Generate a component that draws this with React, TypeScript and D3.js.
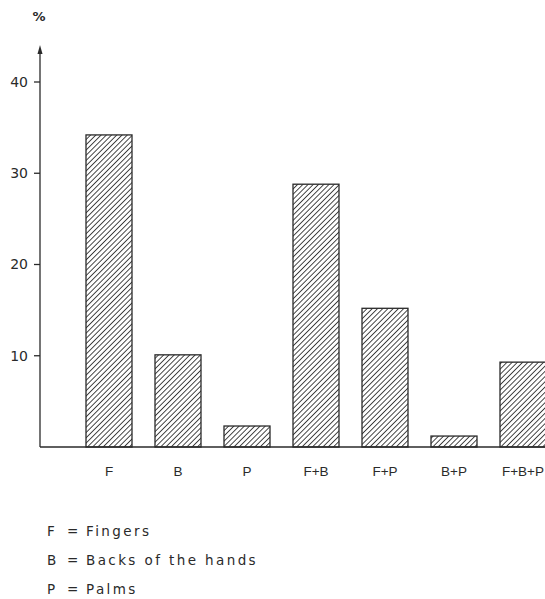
import React from "react";
import * as d3 from "d3";

const categories = ["F", "B", "P", "F+B", "F+P", "B+P", "F+B+P"];
const values = [34.2, 10.1, 2.3, 28.8, 15.2, 1.2, 9.3];
const yTicks = [10, 20, 30, 40];
const legendKeys = ["F", "B", "P"];
const legendLabels = ["Fingers", "Backs of the hands", "Palms"];

const W = 545;
const H = 599;

export default function App() {
  const axisX = 40;
  const baseY = 447;
  const y = d3.scaleLinear().domain([0, 40]).range([baseY, 82]);
  const x = d3
    .scaleBand<string>()
    .domain(categories)
    .range([74.5, 74.5 + 69 * categories.length])
    .padding(0);
  const barW = x.bandwidth() * (46 / 69);
  const font = "'DejaVu Sans', sans-serif";
  const ink = "#2a2a2a";

  return (
    <svg
      width={W}
      height={H}
      style={{ position: "absolute", left: 0, top: 0, background: "#fff" }}
      fontFamily={font}
    >
      <defs>
        <pattern
          id="hatch"
          patternUnits="userSpaceOnUse"
          width={3.7}
          height={3.7}
          patternTransform="rotate(45)"
        >
          <line x1={0} y1={0} x2={0} y2={3.7} stroke="#1a1a1a" strokeWidth={1.6} />
        </pattern>
      </defs>

      {/* % label */}
      <text x={39} y={21} fontSize={13} fontWeight="bold" fill={ink} textAnchor="middle">%</text>

      {/* y axis */}
      <line x1={axisX} y1={50} x2={axisX} y2={baseY} stroke={ink} strokeWidth={1.3} />
      <path d={`M${axisX - 2.5},${54} L${axisX},${45} L${axisX + 2.5},${54} Z`} fill={ink} />
      {yTicks.map((t) => (
        <g key={t}>
          <line x1={axisX - 6} x2={axisX} y1={y(t)} y2={y(t)} stroke={ink} strokeWidth={1.3} />
          <text
            x={axisX - 12}
            y={y(t)}
            dy="0.35em"
            textAnchor="end"
            fontSize={14}
            fill={ink}
          >
            {t}
          </text>
        </g>
      ))}

      {/* bars */}
      {categories.map((c, i) => {
        const bx = (x(c) as number) + (x.bandwidth() - barW) / 2;
        const by = y(values[i]);
        return (
          <rect
            key={c}
            x={bx}
            y={by}
            width={barW}
            height={baseY - by}
            fill="url(#hatch)"
            stroke={ink}
            strokeWidth={1.3}
          />
        );
      })}

      {/* baseline */}
      <line x1={axisX} x2={W} y1={baseY} y2={baseY} stroke={ink} strokeWidth={1.4} />

      {/* category labels */}
      {categories.map((c) => (
        <text
          key={c}
          x={(x(c) as number) + x.bandwidth() / 2}
          y={476}
          textAnchor="middle"
          fontSize={13.5}
          fontFamily="'Liberation Sans', sans-serif"
          fill={ink}
        >
          {c}
        </text>
      ))}

      {/* legend */}
      {legendKeys.map((k, i) => {
        const ly = 535.5 + i * 29;
        return (
          <g key={k} fontSize={13.5} fill={ink}>
            <text x={47} y={ly}>{k}</text>
            <text x={67} y={ly}>=</text>
            <text x={86} y={ly} letterSpacing={2.4}>{legendLabels[i]}</text>
          </g>
        );
      })}
    </svg>
  );
}
